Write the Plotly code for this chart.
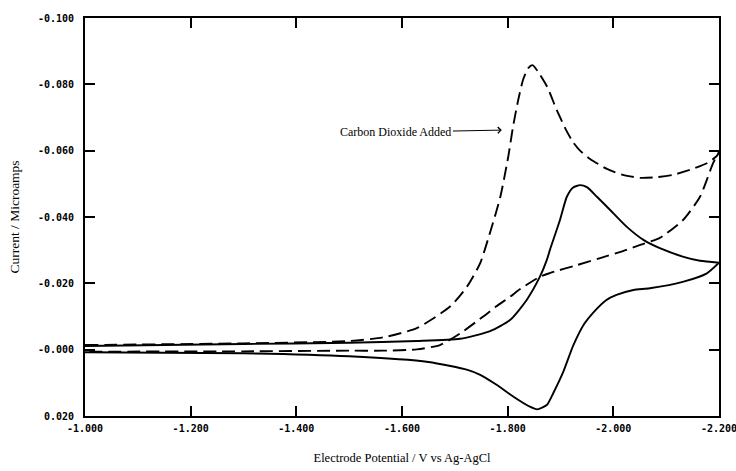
import plotly.graph_objects as go

# Cyclic voltammogram, no CO2: forward (cathodic) sweep then return sweep
base_fwd_v = [-1.000, -1.300, -1.500, -1.628, -1.710, -1.767, -1.805, -1.836, -1.861, -1.874,
              -1.880, -1.899, -1.912, -1.924, -1.937, -1.950, -1.969, -1.994, -2.025, -2.057,
              -2.088, -2.133, -2.164, -2.200]
base_fwd_i = [-0.0011, -0.0017, -0.0021, -0.0026, -0.0033, -0.0056, -0.0090, -0.0150, -0.0220, -0.0270,
              -0.0301, -0.0391, -0.0461, -0.0489, -0.0496, -0.0490, -0.0461, -0.0421, -0.0371, -0.0331,
              -0.0306, -0.0280, -0.0268, -0.0262]
base_ret_v = [-2.200, -2.177, -2.133, -2.069, -2.038, -2.006, -1.987, -1.962, -1.945, -1.924,
              -1.905, -1.886, -1.874, -1.856, -1.842, -1.811, -1.779, -1.748, -1.724, -1.650,
              -1.500, -1.300, -1.000]
base_ret_i = [-0.0262, -0.0230, -0.0205, -0.0185, -0.0180, -0.0165, -0.0150, -0.0112, -0.0078, -0.0012,
              0.0068, 0.0132, 0.0167, 0.0180, 0.0172, 0.0142, 0.0106, 0.0076, 0.0061, 0.0037,
              0.0020, 0.0011, 0.0008]

# Cyclic voltammogram after carbon dioxide is added
co2_fwd_v = [-1.000, -1.300, -1.500, -1.564, -1.628, -1.691, -1.723, -1.748, -1.767, -1.786,
             -1.801, -1.810, -1.820, -1.829, -1.839, -1.847, -1.858, -1.875, -1.893, -1.912,
             -1.924, -1.937, -1.956, -1.988, -2.018, -2.051, -2.082, -2.113, -2.145, -2.177,
             -2.196, -2.200]
co2_fwd_i = [-0.0014, -0.0019, -0.0026, -0.0037, -0.0065, -0.0130, -0.0190, -0.0261, -0.0355, -0.0460,
             -0.0581, -0.0671, -0.0753, -0.0813, -0.0849, -0.0858, -0.0837, -0.0792, -0.0722, -0.0658,
             -0.0625, -0.0600, -0.0575, -0.0545, -0.0527, -0.0518, -0.0520, -0.0527, -0.0542, -0.0562,
             -0.0584, -0.0596]
co2_ret_v = [-2.200, -2.189, -2.164, -2.132, -2.088, -2.051, -2.025, -1.975, -1.931, -1.880,
             -1.861, -1.823, -1.805, -1.778, -1.753, -1.710, -1.672, -1.628, -1.564, -1.500,
             -1.300, -1.000]
co2_ret_i = [-0.0596, -0.0563, -0.0461, -0.0391, -0.0337, -0.0316, -0.0301, -0.0276, -0.0255, -0.0231,
             -0.0220, -0.0182, -0.0160, -0.0130, -0.0099, -0.0049, -0.0014, -0.0001, 0.0003, 0.0003,
             0.0005, 0.0006]

x_ticks = [-1.0, -1.2, -1.4, -1.6, -1.8, -2.0, -2.2]
x_tick_text = ["-1.000", "-1.200", "-1.400", "-1.600", "-1.800", "-2.000", "-2.200"]
y_ticks = [-0.10, -0.08, -0.06, -0.04, -0.02, 0.0, 0.02]
y_tick_text = ["-0.100", "-0.080", "-0.060", "-0.040", "-0.020", "-0.000", "0.020"]

arrow_v, arrow_i = -1.789, -0.0662

fig = go.Figure()
fig.add_trace(go.Scatter(
    x=base_fwd_v + base_ret_v, y=base_fwd_i + base_ret_i, mode="lines",
    line=dict(color="black", width=1.9, shape="spline", smoothing=0.6),
    name="No CO2"))
fig.add_trace(go.Scatter(
    x=co2_fwd_v + co2_ret_v, y=co2_fwd_i + co2_ret_i, mode="lines",
    line=dict(color="black", width=1.9, dash="13px,6px", shape="spline", smoothing=0.6),
    name="CO2 added"))

tick_font = dict(family="DejaVu Sans Mono", size=10, color="black", weight="bold")

fig.update_xaxes(
    range=[-1.0, -2.2], tickmode="array", tickvals=x_ticks, ticktext=x_tick_text,
    ticks="inside", ticklen=10, tickwidth=1.5, tickcolor="black",
    showline=True, linewidth=2, linecolor="black", mirror="ticks",
    showgrid=False, zeroline=False, tickfont=tick_font, ticklabeloverflow="allow",
    ticklabelstandoff=2,
    title=dict(text="Electrode Potential / V vs Ag-AgCl",
               font=dict(family="Liberation Serif", size=12.5, color="black"), standoff=20),
)
fig.update_yaxes(
    range=[0.02, -0.10], tickmode="array", tickvals=y_ticks, ticktext=y_tick_text,
    ticks="inside", ticklen=10, tickwidth=1.5, tickcolor="black",
    showline=True, linewidth=2, linecolor="black", mirror="ticks",
    showgrid=False, zeroline=False, tickfont=tick_font, ticklabelstandoff=7,
    title=dict(text="Current / Microamps",
               font=dict(family="Liberation Serif", size=13.5, color="black"), standoff=15),
)

fig.add_annotation(
    x=arrow_v, y=arrow_i, xref="x", yref="y",
    text="Carbon Dioxide Added", font=dict(family="Liberation Serif", size=12, color="black"),
    showarrow=True, arrowhead=4, arrowsize=1.2, arrowwidth=1, arrowcolor="black",
    ax=-106, ay=2, standoff=0,
)

fig.update_layout(
    width=736, height=471,
    margin=dict(l=85, r=17, t=18, b=55, autoexpand=False),
    paper_bgcolor="white", plot_bgcolor="white",
    showlegend=False,
)

fig.write_html("out.html")
